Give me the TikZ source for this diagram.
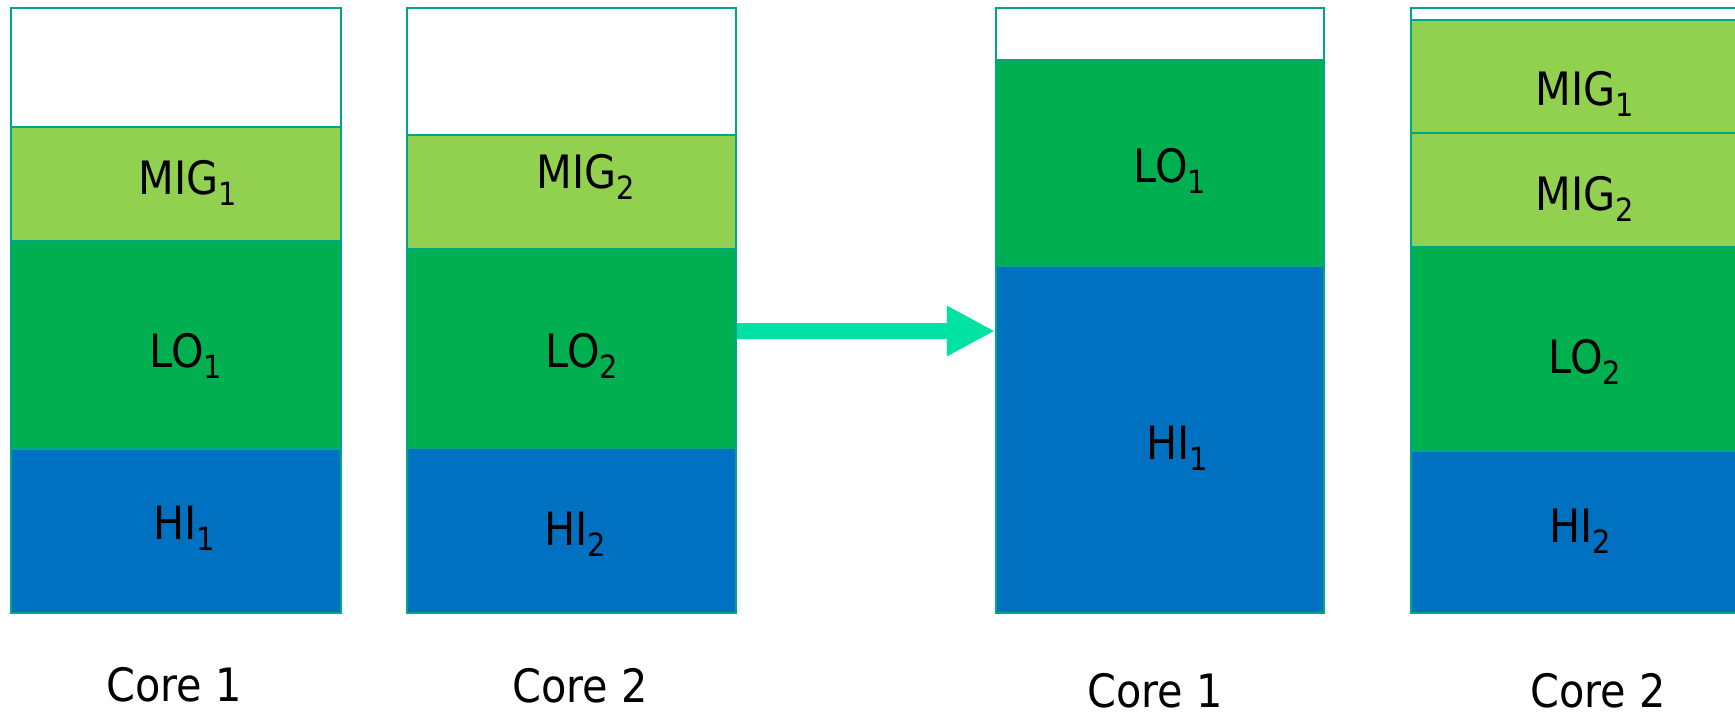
\documentclass[tikz,border=0pt]{standalone}
\usepackage{fontspec}
\setmainfont{DejaVu Sans Condensed}
\usetikzlibrary{arrows.meta,fit}
\definecolor{edge}{RGB}{0,166,136}
\definecolor{migcol}{RGB}{146,208,80}
\definecolor{locol}{RGB}{0,176,80}
\definecolor{hicol}{RGB}{0,112,192}
\definecolor{movecol}{RGB}{0,226,164}
\tikzset{font=\fontsize{23}{27}\selectfont}
\tikzset{seg/.style={draw=edge, line width=1.1pt, inner sep=0pt}}
\tikzset{corename/.style={inner sep=0pt}}
\newcommand{\sbs}[1]{\raisebox{-5.5pt}{\fontsize{16}{16}\selectfont #1}}

\begin{document}
\begin{tikzpicture}[x=0.5pt,y=-0.5pt]
  \useasboundingbox (0,0) rectangle (1735,717);
  \clip (0,0) rectangle (1735,717);

  % before: core 1
  \node[seg, fill=white,  fit={(11,8) (341,127)}]   (a1free) {};
  \node[seg, fill=migcol, fit={(11,127) (341,241)}] (a1mig) {};
  \node[seg, fill=locol,  fit={(11,241) (341,449)}] (a1lo) {};
  \node[seg, fill=hicol,  fit={(11,449) (341,613)}] (a1hi) {};
  % before: core 2
  \node[seg, fill=white,  fit={(407,8) (736,135)}]   (a2free) {};
  \node[seg, fill=migcol, fit={(407,135) (736,249)}] (a2mig) {};
  \node[seg, fill=locol,  fit={(407,249) (736,448)}] (a2lo) {};
  \node[seg, fill=hicol,  fit={(407,448) (736,613)}] (a2hi) {};
  % after: core 1
  \node[seg, fill=white,  fit={(996,8) (1324,60)}]   (b1free) {};
  \node[seg, fill=locol,  fit={(996,60) (1324,266)}] (b1lo) {};
  \node[seg, fill=hicol,  fit={(996,266) (1324,613)}] (b1hi) {};
  % after: core 2
  \node[seg, fill=white,  fit={(1411,8) (1741,20)}]    (b2free) {};
  \node[seg, fill=migcol, fit={(1411,20) (1741,133)}]  (b2mig) {};
  \node[seg, fill=migcol, fit={(1411,133) (1741,247)}] (b2migb) {};
  \node[seg, fill=locol,  fit={(1411,247) (1741,451)}] (b2lo) {};
  \node[seg, fill=hicol,  fit={(1411,451) (1741,613)}] (b2hi) {};

  \node (ta1mig) at (188,183) {MIG\sbs{1}};
  \node (ta1lo)  at (186,356) {LO\sbs{1}};
  \node (ta1hi)  at (184,528) {HI\sbs{1}};
  \node (ta2mig) at (586,177) {MIG\sbs{2}};
  \node (ta2lo)  at (582,356) {LO\sbs{2}};
  \node (ta2hi)  at (575,534) {HI\sbs{2}};
  \node (tb1lo)  at (1170,171) {LO\sbs{1}};
  \node (tb1hi)  at (1177,448) {HI\sbs{1}};
  \node (tb2mig) at (1585,94)  {MIG\sbs{1}};
  \node (tb2migb) at (1585,199) {MIG\sbs{2}};
  \node (tb2lo)  at (1585,362) {LO\sbs{2}};
  \node (tb2hi)  at (1580,531) {HI\sbs{2}};

  % migration
  \coordinate (mvs) at ([yshift=8.75pt]a2lo.east);
  \draw[movecol, line width=8pt, -{Triangle[length=24pt,width=23.5pt]}] (mvs) -- (mvs -| b1hi.west);

  \node[corename] (ca1) at (174,685)  {Core 1};
  \node[corename] (ca2) at (580,686)  {Core 2};
  \node[corename] (cb1) at (1155,691) {Core 1};
  \node[corename] (cb2) at (1598,691) {Core 2};
\end{tikzpicture}
\end{document}
